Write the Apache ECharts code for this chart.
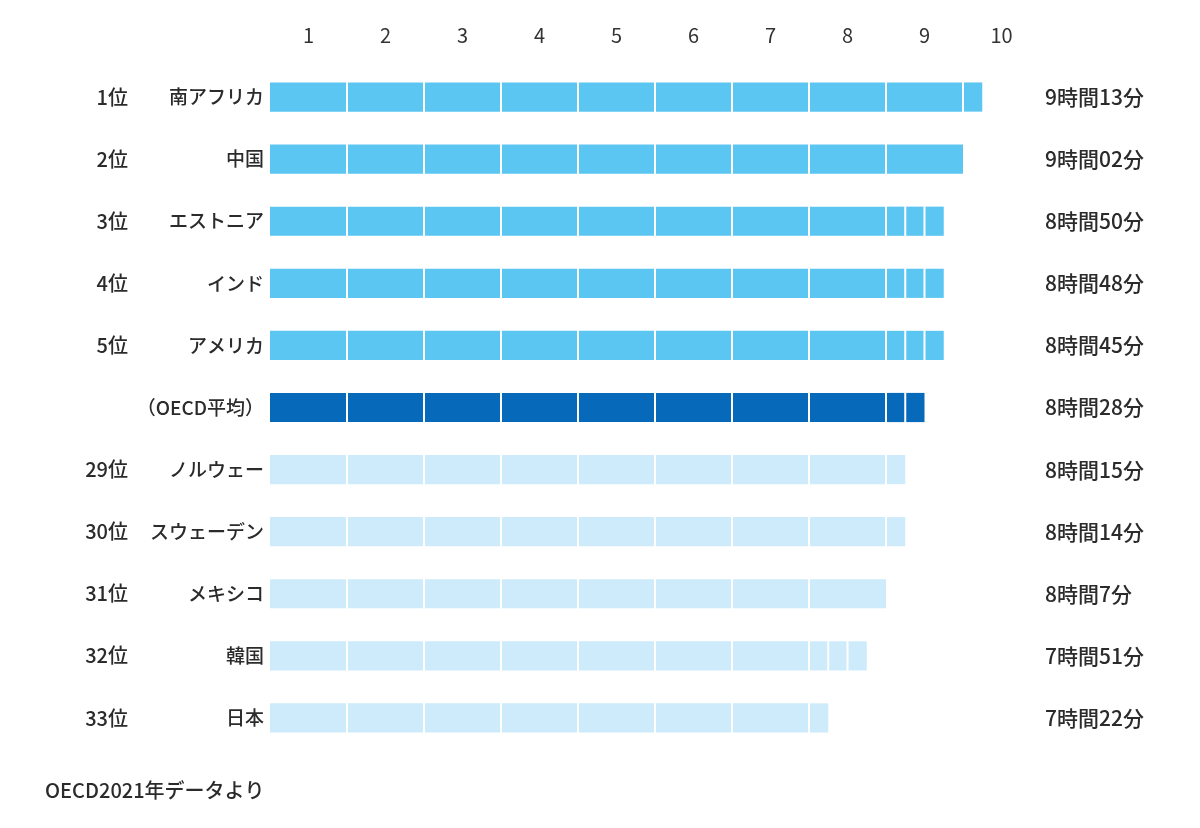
<!DOCTYPE html>
<html>
<head>
<meta charset="utf-8">
<script src="https://cdn.jsdelivr.net/npm/echarts@6/dist/echarts.min.js"></script>
<style>
  html, body { margin: 0; padding: 0; background: #fff; }
  #chart { width: 1200px; height: 828px; }
</style>
</head>
<body>
<div id="chart"></div>
<script>
  const countries = ['南アフリカ', '中国', 'エストニア', 'インド', 'アメリカ', '（OECD平均）',
    'ノルウェー', 'スウェーデン', 'メキシコ', '韓国', '日本'];
  const ranks = ['1位', '2位', '3位', '4位', '5位', '', '29位', '30位', '31位', '32位', '33位'];
  const durations = ['9時間13分', '9時間02分', '8時間50分', '8時間48分', '8時間45分', '8時間28分',
    '8時間15分', '8時間14分', '8時間7分', '7時間51分', '7時間22分'];
  // bar lengths as drawn (hours, drawn in quarter-hour steps)
  const hours = [9.25, 9, 8.75, 8.75, 8.75, 8.5, 8.25, 8.25, 8, 7.75, 7.25];
  const groups = ['top', 'top', 'top', 'top', 'top', 'oecd', 'low', 'low', 'low', 'low', 'low'];
  const tickLabels = ['1', '2', '3', '4', '5', '6', '7', '8', '9', '10'];

  const groupColors = {top: '#5CC6F2', oecd: '#0769BA', low: '#CDEBFA'};
  const font = '"Noto Sans CJK JP", "Noto Sans", sans-serif';
  const textColor = '#2b2b2b';

  // each bar is cut into whole hours, then quarter hours for the rest
  const segmentsOf = (value) => {
    const cuts = [0];
    const whole = Math.floor(value);
    for (let h = 1; h <= whole; h += 1) cuts.push(h);
    let q = whole;
    while (value - q > 1e-6) {
      q = Math.min(value, q + 0.25);
      cuts.push(q);
    }
    return cuts;
  };

  const renderItem = (params, api) => {
    const value = api.value(0);
    const row = api.value(1);
    const cuts = segmentsOf(value);
    const height = api.size([0, 1])[1] * 0.47;
    const center = api.coord([0, row])[1];
    const color = groupColors[groups[params.dataIndex]];
    const children = [];
    for (let i = 0; i < cuts.length - 1; i += 1) {
      const x0 = api.coord([cuts[i], row])[0] + (i > 0 ? 1 : 0);
      const x1 = api.coord([cuts[i + 1], row])[0] - (i < cuts.length - 2 ? 1 : 0);
      children.push({
        type: 'rect',
        shape: {x: x0, y: center - height / 2, width: x1 - x0, height},
        style: {fill: color},
      });
    }
    return {type: 'group', children};
  };

  const labelStyle = {fontFamily: font, fontSize: 19, color: textColor, fontWeight: 500};
  const hiddenAxis = {
    axisLine: {show: false}, axisTick: {show: false}, splitLine: {show: false},
  };

  const chart = echarts.init(document.getElementById('chart'));
  chart.setOption({
    animation: false,
    backgroundColor: '#fff',
    title: {
      text: 'OECD2021年データより',
      left: 40,
      top: 775,
      textStyle: {fontFamily: font, fontSize: 20, color: textColor, fontWeight: 500},
    },
    grid: {left: 270, right: 160, top: 66, bottom: 79},
    xAxis: [
      {type: 'value', min: 0, max: 10, axisLabel: {show: false}, ...hiddenAxis},
      {
        type: 'category', position: 'top', data: tickLabels, boundaryGap: true,
        axisLabel: {margin: 21, fontFamily: font, fontSize: 20, color: '#333'},
        ...hiddenAxis,
      },
    ],
    yAxis: [
      {
        type: 'category', data: countries, inverse: true, position: 'left',
        axisLabel: {margin: 6, ...labelStyle}, ...hiddenAxis,
      },
      {
        type: 'category', data: ranks, inverse: true, position: 'left', offset: 136,
        axisLabel: {margin: 6, ...labelStyle, fontSize: 20}, ...hiddenAxis,
      },
      {
        type: 'category', data: durations, inverse: true, position: 'right',
        axisLabel: {margin: 5, ...labelStyle, fontSize: 21}, ...hiddenAxis,
      },
    ],
    series: [
      {
        type: 'custom',
        renderItem,
        xAxisIndex: 0,
        yAxisIndex: 0,
        encode: {x: 0, y: 1},
        data: hours.map((value, index) => [value, index]),
      },
      {
        type: 'bar', xAxisIndex: 1, yAxisIndex: 0, data: [], silent: true,
      },
    ],
  });
</script>
</body>
</html>
